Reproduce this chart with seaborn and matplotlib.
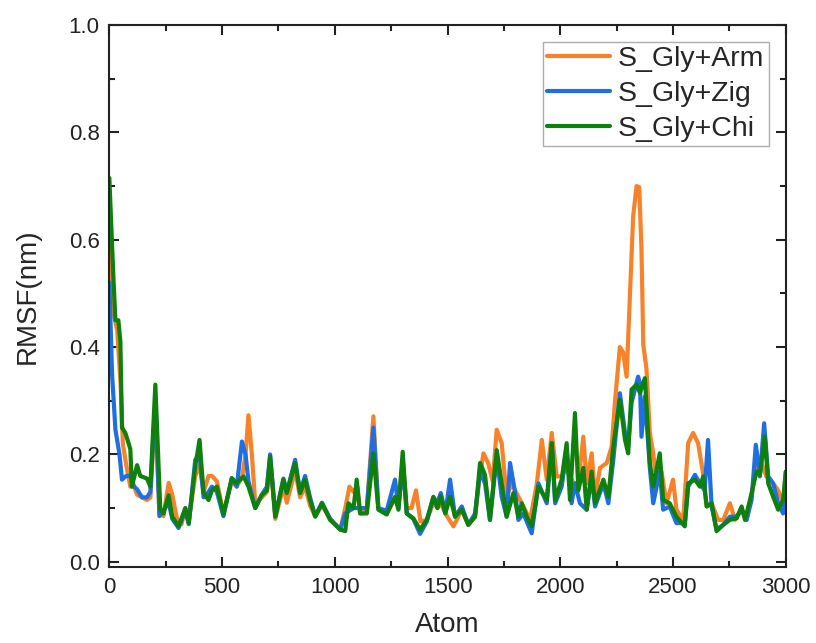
import numpy as np
import pandas as pd
import matplotlib
matplotlib.use("Agg")
import matplotlib.pyplot as plt
import seaborn as sns
from matplotlib.ticker import MultipleLocator

sns.set_style("ticks")
plt.rcParams['font.family'] = ['Liberation Sans', 'DejaVu Sans']

# RMSF per atom
atom_arm = [0, 15, 35, 50, 60, 75, 93, 110, 123, 145, 167, 182, 204, 222, 240, 263, 279, 300, 320, 337,
            352, 381, 400, 418, 440, 455, 477, 506, 543, 565, 590, 604, 617, 632, 647, 676, 699, 713, 736, 772,
            787, 824, 846, 868, 890, 913, 943, 979, 1024, 1046, 1065, 1083, 1100, 1112, 1142, 1171, 1193, 1230, 1267, 1282,
            1301, 1319, 1340, 1360, 1380, 1408, 1437, 1455, 1470, 1490, 1526, 1563, 1592, 1622, 1640, 1659, 1680, 1700, 1718, 1740,
            1762, 1784, 1800, 1829, 1866, 1896, 1918, 1940, 1962, 1984, 2006, 2028, 2058, 2080, 2102, 2117, 2139, 2154, 2176, 2206,
            2228, 2242, 2264, 2279, 2294, 2308, 2323, 2338, 2350, 2360, 2368, 2382, 2397, 2412, 2427, 2449, 2471, 2500, 2515, 2545,
            2567, 2589, 2611, 2634, 2649, 2671, 2700, 2723, 2752, 2775, 2804, 2826, 2848, 2870, 2892, 2914, 2944, 2966, 2988, 3000]
rmsf_arm = [0.60, 0.47, 0.43, 0.33, 0.22, 0.18, 0.14, 0.14, 0.125, 0.12, 0.115, 0.12, 0.29, 0.09, 0.085, 0.147, 0.125, 0.08, 0.07, 0.10,
            0.075, 0.16, 0.18, 0.13, 0.16, 0.16, 0.15, 0.09, 0.15, 0.14, 0.16, 0.20, 0.273, 0.20, 0.11, 0.12, 0.13, 0.19, 0.08, 0.14,
            0.11, 0.17, 0.12, 0.14, 0.105, 0.085, 0.105, 0.08, 0.06, 0.10, 0.14, 0.13, 0.14, 0.09, 0.10, 0.271, 0.10, 0.09, 0.12, 0.10,
            0.19, 0.10, 0.10, 0.133, 0.075, 0.078, 0.11, 0.10, 0.109, 0.09, 0.066, 0.097, 0.069, 0.084, 0.15, 0.202, 0.184, 0.15, 0.246, 0.221,
            0.121, 0.146, 0.133, 0.109, 0.078, 0.146, 0.227, 0.153, 0.24, 0.159, 0.159, 0.175, 0.146, 0.146, 0.233, 0.146, 0.202, 0.121, 0.175, 0.184,
            0.215, 0.296, 0.40, 0.39, 0.345, 0.488, 0.643, 0.70, 0.698, 0.581, 0.404, 0.36, 0.24, 0.202, 0.146, 0.168, 0.109, 0.153, 0.097, 0.078,
            0.221, 0.24, 0.221, 0.162, 0.103, 0.109, 0.078, 0.078, 0.109, 0.078, 0.097, 0.078, 0.121, 0.184, 0.184, 0.159, 0.146, 0.133, 0.109, 0.168]

atom_zig = [0, 12, 27, 45, 56, 75, 93, 110, 123, 145, 167, 182, 204, 222, 263, 279, 307, 337, 352, 381,
            400, 418, 440, 455, 477, 506, 543, 565, 588, 604, 617, 647, 676, 699, 713, 736, 772, 787, 824, 846,
            868, 890, 913, 943, 979, 1024, 1046, 1083, 1112, 1142, 1171, 1193, 1230, 1267, 1282, 1301, 1319, 1348, 1378, 1408,
            1437, 1455, 1470, 1490, 1511, 1533, 1563, 1592, 1622, 1644, 1666, 1688, 1718, 1740, 1762, 1777, 1800, 1814, 1836, 1873,
            1903, 1940, 1962, 1977, 2006, 2028, 2050, 2065, 2087, 2117, 2139, 2154, 2191, 2213, 2235, 2264, 2287, 2301, 2316, 2345,
            2353, 2360, 2375, 2397, 2412, 2441, 2456, 2485, 2515, 2552, 2567, 2597, 2619, 2640, 2655, 2671, 2693, 2723, 2752, 2782,
            2804, 2826, 2848, 2867, 2885, 2904, 2922, 2944, 2966, 2988, 3000]
rmsf_zig = [0.52, 0.35, 0.246, 0.20, 0.153, 0.16, 0.16, 0.14, 0.135, 0.12, 0.12, 0.13, 0.30, 0.085, 0.11, 0.08, 0.063, 0.095, 0.07, 0.19,
            0.20, 0.12, 0.13, 0.14, 0.13, 0.085, 0.155, 0.14, 0.224, 0.20, 0.15, 0.10, 0.125, 0.14, 0.20, 0.085, 0.155, 0.13, 0.19, 0.13,
            0.16, 0.12, 0.085, 0.11, 0.08, 0.06, 0.09, 0.10, 0.10, 0.10, 0.25, 0.10, 0.095, 0.153, 0.10, 0.18, 0.09, 0.08, 0.052, 0.075,
            0.12, 0.11, 0.128, 0.091, 0.153, 0.084, 0.103, 0.069, 0.09, 0.168, 0.146, 0.078, 0.196, 0.121, 0.084, 0.184, 0.128, 0.078, 0.09, 0.053,
            0.146, 0.109, 0.221, 0.109, 0.14, 0.208, 0.109, 0.146, 0.109, 0.097, 0.159, 0.103, 0.146, 0.109, 0.19, 0.314, 0.24, 0.215, 0.296, 0.345,
            0.333, 0.233, 0.308, 0.175, 0.109, 0.168, 0.097, 0.103, 0.072, 0.072, 0.14, 0.162, 0.146, 0.133, 0.227, 0.103, 0.06, 0.069, 0.084, 0.084,
            0.097, 0.078, 0.115, 0.218, 0.159, 0.258, 0.159, 0.146, 0.109, 0.09, 0.14]

atom_chi = [0, 19, 27, 40, 49, 56, 71, 93, 100, 123, 137, 167, 182, 204, 226, 240, 263, 279, 307, 337,
            352, 381, 400, 418, 440, 455, 477, 506, 543, 565, 595, 617, 647, 676, 699, 713, 736, 772, 787, 824,
            846, 868, 890, 913, 943, 979, 1024, 1046, 1060, 1083, 1097, 1112, 1142, 1171, 1193, 1230, 1267, 1282, 1301, 1319,
            1348, 1378, 1408, 1437, 1455, 1470, 1490, 1511, 1533, 1563, 1592, 1622, 1644, 1666, 1688, 1718, 1740, 1762, 1792, 1814,
            1829, 1851, 1873, 1903, 1940, 1962, 1977, 2006, 2028, 2043, 2065, 2080, 2102, 2117, 2139, 2154, 2191, 2213, 2235, 2264,
            2287, 2301, 2316, 2338, 2353, 2375, 2397, 2412, 2441, 2456, 2485, 2515, 2552, 2567, 2597, 2619, 2634, 2649, 2671, 2693,
            2723, 2752, 2782, 2804, 2819, 2841, 2870, 2885, 2907, 2922, 2944, 2966, 2988, 3000]
rmsf_chi = [0.715, 0.52, 0.45, 0.45, 0.41, 0.25, 0.24, 0.21, 0.14, 0.18, 0.16, 0.155, 0.14, 0.33, 0.097, 0.09, 0.124, 0.084, 0.066, 0.10,
            0.072, 0.178, 0.227, 0.128, 0.115, 0.133, 0.14, 0.088, 0.156, 0.146, 0.159, 0.14, 0.10, 0.124, 0.133, 0.196, 0.084, 0.153, 0.128, 0.184,
            0.128, 0.153, 0.115, 0.084, 0.109, 0.078, 0.06, 0.057, 0.109, 0.10, 0.153, 0.09, 0.09, 0.202, 0.097, 0.088, 0.121, 0.097, 0.205, 0.09,
            0.081, 0.06, 0.078, 0.121, 0.10, 0.122, 0.09, 0.121, 0.084, 0.097, 0.069, 0.084, 0.184, 0.162, 0.078, 0.208, 0.146, 0.084, 0.128, 0.084,
            0.109, 0.084, 0.066, 0.14, 0.115, 0.221, 0.115, 0.153, 0.221, 0.115, 0.277, 0.133, 0.175, 0.097, 0.168, 0.109, 0.153, 0.121, 0.215, 0.302,
            0.227, 0.202, 0.321, 0.33, 0.315, 0.342, 0.184, 0.14, 0.202, 0.115, 0.109, 0.084, 0.066, 0.146, 0.153, 0.14, 0.159, 0.103, 0.109, 0.057,
            0.069, 0.078, 0.081, 0.103, 0.078, 0.115, 0.168, 0.162, 0.233, 0.146, 0.121, 0.097, 0.115, 0.168]

labels = ["S_Gly+Arm", "S_Gly+Zig", "S_Gly+Chi"]
colors = ["#F7822A", "#1F6FE0", "#0E800E"]

frames = []
for lab, xs, ys in zip(labels, [atom_arm, atom_zig, atom_chi], [rmsf_arm, rmsf_zig, rmsf_chi]):
    frames.append(pd.DataFrame({"Atom": xs, "RMSF": ys, "System": lab}))
df = pd.concat(frames, ignore_index=True)

fig, ax = plt.subplots(figsize=(8.16, 6.43), dpi=100)
fig.subplots_adjust(left=0.134, right=0.963, top=0.961, bottom=0.118)

sns.lineplot(data=df, x="Atom", y="RMSF", hue="System", hue_order=labels,
             palette=dict(zip(labels, colors)), linewidth=3.0, ax=ax, estimator=None)

ax.set_xlim(0, 3000)
ax.set_ylim(-0.01, 1.0)
ax.xaxis.set_major_locator(MultipleLocator(500))
ax.xaxis.set_minor_locator(MultipleLocator(250))
ax.yaxis.set_major_locator(MultipleLocator(0.2))
ax.yaxis.set_minor_locator(MultipleLocator(0.1))
ax.yaxis.set_major_formatter(matplotlib.ticker.FormatStrFormatter("%.1f"))
ax.tick_params(which="both", direction="in", top=True, right=True, width=1.5, labelsize=16,
               colors="#222222", pad=7)
ax.tick_params(which="major", length=7)
ax.tick_params(which="minor", length=4)
for sp in ax.spines.values():
    sp.set_linewidth(1.5)
    sp.set_color("#222222")

ax.set_xlabel("Atom", fontsize=20, labelpad=10)
ax.set_ylabel("RMSF(nm)", fontsize=20, labelpad=20)

leg = ax.legend(loc="upper right", fontsize=20.5, frameon=True, fancybox=False, edgecolor="#999999",
                handlelength=2.2, handletextpad=0.3, labelspacing=0.3, borderpad=0.15, borderaxespad=0.6)
for line in leg.get_lines():
    line.set_linewidth(3.0)

plt.savefig("out.png", dpi=100)
